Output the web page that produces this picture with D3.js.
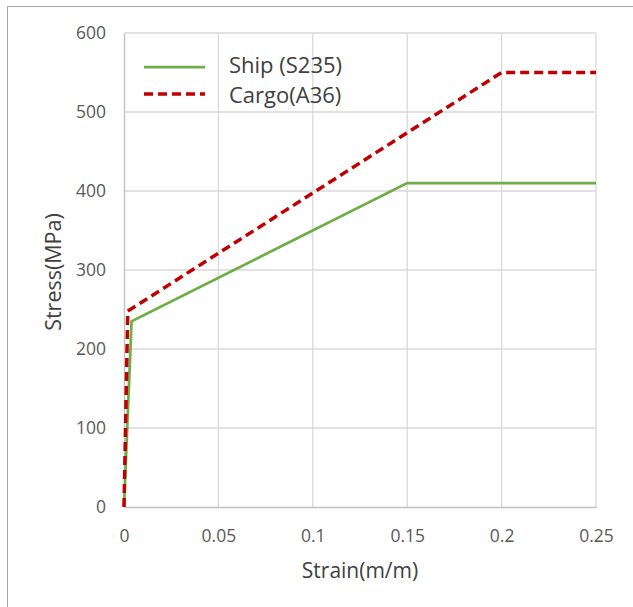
<!DOCTYPE html>
<html>
<head>
<meta charset="utf-8">
<script src="https://cdn.jsdelivr.net/npm/d3@7"></script>
<style>
  body { margin: 0; background: #fff; }
  svg { display: block; font-family: "Open Sans", Calibri, sans-serif; }
</style>
</head>
<body>
<svg id="chart" width="633" height="607"></svg>
<script>
// data
const seriesNames = ['Ship (S235)', 'Cargo(A36)'];
const shipStrain = [0, 0.004, 0.15, 0.25];
const shipStress = [0, 235, 410, 410];
const cargoStrain = [0, 0.002, 0.2, 0.25];
const cargoStress = [0, 248, 550, 550];
const xTicks = [0, 0.05, 0.1, 0.15, 0.2, 0.25];
const yTicks = [0, 100, 200, 300, 400, 500, 600];

const svg = d3.select('#chart');
const margin = { left: 124, right: 37, top: 33, bottom: 100 };
const width = 633 - margin.left - margin.right;
const height = 607 - margin.top - margin.bottom;

// outer frame (runs off the right and bottom edges)
svg.append('path')
  .attr('d', 'M7.5,640 V6.5 H640')
  .attr('fill', 'none')
  .attr('stroke', '#a6a6a6')
  .attr('stroke-width', 1);

const x = d3.scaleLinear().domain([0, 0.25]).range([0, width]);
const y = d3.scaleLinear().domain([0, 600]).range([height, 0]);

const g = svg.append('g').attr('transform', `translate(${margin.left},${margin.top})`);

// gridlines
g.append('g')
  .selectAll('line')
  .data(xTicks.slice(1))
  .enter()
  .append('line')
  .attr('x1', d => x(d)).attr('x2', d => x(d))
  .attr('y1', 0).attr('y2', height)
  .attr('stroke', '#d9d9d9').attr('stroke-width', 1.3);

g.append('g')
  .selectAll('line')
  .data(yTicks.slice(1))
  .enter()
  .append('line')
  .attr('x1', 0).attr('x2', width)
  .attr('y1', d => y(d)).attr('y2', d => y(d))
  .attr('stroke', '#d9d9d9').attr('stroke-width', 1.3);

// axes
const xAxis = g.append('g')
  .attr('transform', `translate(0,${height})`)
  .call(d3.axisBottom(x).tickValues(xTicks).tickSize(0).tickPadding(23).tickFormat(d => d3.format('')(d)));
const yAxis = g.append('g')
  .call(d3.axisLeft(y).tickValues(yTicks).tickSize(0).tickPadding(18));

[xAxis, yAxis].forEach((ax) => {
  ax.select('.domain').attr('stroke', '#bfbfbf').attr('stroke-width', 1.3);
  ax.selectAll('text')
    .attr('fill', '#595959')
    .style('font-size', '17.5px')
    .style('font-family', '"Open Sans", sans-serif');
});
xAxis.selectAll('text').attr('dy', '0.35em').attr('y', 29);

// axis titles
svg.append('text')
  .attr('x', 360)
  .attr('y', 578)
  .attr('text-anchor', 'middle')
  .attr('fill', '#404040')
  .style('font-size', '21px')
  .text('Strain(m/m)');

svg.append('text')
  .attr('transform', `translate(61,272) rotate(-90)`)
  .attr('text-anchor', 'middle')
  .attr('fill', '#404040')
  .style('font-size', '21.5px')
  .text('Stress(MPa)');

// lines
const line = d3.line().x(d => x(d[0])).y(d => y(d[1]));
const ship = shipStrain.map((s, i) => [s, shipStress[i]]);
const cargo = cargoStrain.map((s, i) => [s, cargoStress[i]]);

g.append('path')
  .datum(ship)
  .attr('d', line)
  .attr('fill', 'none')
  .attr('stroke', '#70ad47')
  .attr('stroke-width', 2.75);

g.append('path')
  .datum(cargo)
  .attr('d', line)
  .attr('fill', 'none')
  .attr('stroke', '#c00000')
  .attr('stroke-width', 3.5)
  .attr('stroke-dasharray', '9,5');

// legend
const legend = svg.append('g');
const legendStyles = [
  { color: '#70ad47', width: 2.75, dash: null, ly: 67, ty: 73 },
  { color: '#c00000', width: 3.5, dash: '9,5', ly: 94, ty: 103 }
];
seriesNames.forEach((name, i) => {
  const st = legendStyles[i];
  legend.append('line')
    .attr('x1', 144).attr('x2', 205)
    .attr('y1', st.ly).attr('y2', st.ly)
    .attr('stroke', st.color)
    .attr('stroke-width', st.width)
    .attr('stroke-dasharray', st.dash);
  legend.append('text')
    .attr('x', 229)
    .attr('y', st.ty)
    .attr('fill', '#404040')
    .style('font-size', '22px')
    .text(name);
});
</script>
</body>
</html>
